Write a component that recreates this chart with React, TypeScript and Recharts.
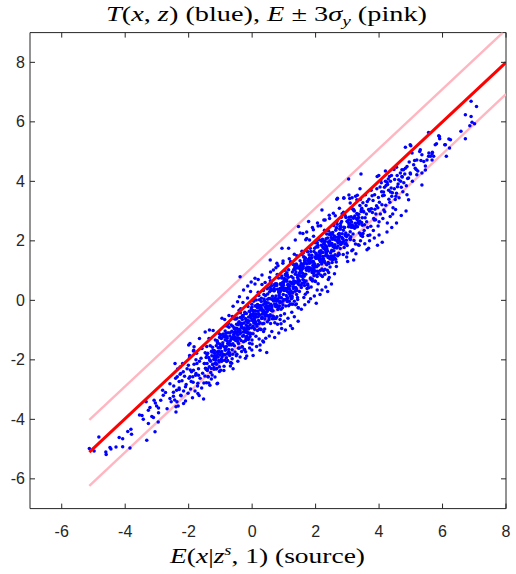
import { Scatter, ScatterChart, XAxis, YAxis } from 'recharts'

const W = 516
const H = 574
const AXIS = '#262626'
const BLUE = '#0000ff'
const RED = '#ff0000'
const PINK = '#ffb6c1'

const X_DOMAIN = [-7, 8]
const Y_DOMAIN = [-7, 9]
const X_TICKS = [-6, -4, -2, 0, 2, 4, 6, 8]
const Y_TICKS = [-6, -4, -2, 0, 2, 4, 6, 8]

// E line and E ± 3σ band, end points
const lineX = [-5.13, 8]
const redY = [-5.1, 8]
const pinkUpperX = [-5.13, 7.9]
const pinkUpperY = [-4.02, 9]
const pinkLowerY = [-6.24, 6.93]

// T(x,z) samples, read /, grouped by region
const tailLow = [
  [-5.13, -4.98], [-4.98, -5.06], [-4.83, -4.59], [-4.61, -5.1], [-4.6, -5.18], [-4.48, -4.95], [-4.45, -5.0],
  [-4.29, -4.93], [-4.19, -4.61], [-4.08, -4.65], [-4.08, -4.92], [-3.92, -4.41], [-3.82, -4.33], [-3.8, -4.5],
  [-3.85, -4.96], [-3.55, -3.85], [-3.47, -3.87], [-3.43, -4.0], [-3.32, -4.7], [-3.34, -3.41], [-3.27, -3.69],
  [-3.22, -3.6], [-3.16, -3.9], [-3.27, -4.14], [-3.11, -3.94], [-3.09, -3.36], [-3.05, -3.45], [-3.01, -3.55],
  [-3.06, -4.42], [-2.95, -3.62], [-2.95, -3.78], [-2.96, -4.09], [-2.88, -3.36], [-2.82, -3.02], [-2.8, -3.19],
  [-2.73, -3.1], [-2.68, -3.64], [-2.59, -2.8], [-2.59, -3.3], [-2.55, -3.41], [-2.48, -3.22], [-2.48, -3.09],
  [-2.4, -3.75], [-2.4, -3.58], [-2.37, -3.41], [-2.43, -2.12], [-2.36, -2.57], [-2.3, -2.73], [-2.3, -3.0],
  [-2.25, -3.19], [-2.25, -2.46], [-2.16, -3.47], [-2.1, -2.9], [-2.0, -1.5], [-1.97, -1.85], [-1.95, -2.34],
  [-1.92, -2.73], [-1.87, -2.57], [-1.83, -1.56], [-1.77, -2.0], [-1.77, -2.46], [-1.71, -2.79], [-1.71, -3.13],
  [-2.27, -2.24], [-2.17, -2.4], [-2.01, -2.18], [-1.96, -2.57], [-1.85, -2.35], [-1.74, -2.12], [-1.69, -2.52],
]

const bandA = [
  [-2.47, -2.88], [-2.44, -3.35], [-2.41, -2.62], [-2.38, -3.02], [-2.35, -2.31], [-2.33, -3.55], [-2.3, -2.95],
  [-2.27, -2.48], [-2.24, -3.21], [-2.21, -2.7], [-2.19, -2.12], [-2.16, -3.05], [-2.13, -2.55], [-2.1, -3.38],
  [-2.08, -2.83], [-2.05, -2.3], [-2.02, -3.12], [-1.99, -2.62], [-1.97, -1.92], [-1.94, -2.98], [-1.91, -2.4],
  [-1.88, -3.27], [-1.86, -2.75], [-1.83, -2.15], [-1.8, -3.05], [-1.78, -2.52], [-1.75, -1.78], [-1.72, -2.88],
  [-1.69, -2.3], [-1.67, -3.2], [-1.64, -2.62], [-1.61, -1.95], [-1.59, -2.95], [-1.56, -2.45], [-1.53, -3.32],
  [-1.51, -2.12], [-1.52, -2.78], [-1.58, -1.62], [-1.66, -2.05], [-1.85, -1.7],
]

const bandB = [
  [-1.5, -2.12], [-1.49, -2.54], [-1.48, -1.76], [-1.47, -2.28], [-1.45, -1.92], [-1.44, -2.77], [-1.43, -1.55],
  [-1.42, -2.12], [-1.41, -2.36], [-1.4, -1.78], [-1.39, -2.57], [-1.37, -1.92], [-1.36, -1.28], [-1.35, -2.23],
  [-1.34, -2.0], [-1.33, -2.85], [-1.32, -1.53], [-1.31, -2.05], [-1.29, -2.29], [-1.28, -1.71], [-1.27, -1.86],
  [-1.26, -2.51], [-1.25, -1.58], [-1.24, -2.15], [-1.23, -1.01], [-1.21, -1.99], [-1.2, -2.32], [-1.19, -1.69],
  [-1.18, -1.86], [-1.17, -2.58], [-1.16, -1.33], [-1.15, -2.0], [-1.13, -1.53], [-1.12, -2.15], [-1.11, -1.74],
  [-1.1, -1.36], [-1.09, -2.79], [-1.08, -1.8], [-1.07, -1.59], [-1.05, -2.02], [-1.04, -1.12], [-1.03, -2.23],
  [-1.02, -1.47], [-1.01, -1.84], [-1.0, -1.6], [-0.99, -2.35], [-0.97, -1.28], [-0.96, -1.72], [-0.95, -0.6],
  [-0.94, -2.02], [-0.93, -1.5], [-0.92, -1.82], [-0.91, -1.13], [-0.89, -2.36], [-0.88, -1.57], [-0.87, -1.23],
  [-0.86, -2.01], [-0.85, -1.33], [-0.84, -1.64], [-0.83, -0.85], [-0.81, -1.55], [-0.8, -1.8], [-0.79, -1.22],
  [-0.78, -1.37], [-0.77, -2.02], [-0.76, -1.09], [-0.74, -1.65], [-0.73, -0.51], [-0.72, -1.5], [-0.71, -1.83],
  [-0.7, -1.2], [-0.69, -1.37], [-0.68, -2.09], [-0.66, -0.83], [-0.65, -1.5], [-0.64, -1.04], [-0.63, -1.66],
  [-0.62, -1.25], [-0.61, -0.87], [-0.6, -2.3], [-0.58, -1.3], [-0.57, -1.09], [-0.56, -1.53], [-0.55, -0.63],
  [-0.54, -1.74], [-0.53, -0.98], [-0.52, -1.35], [-0.51, -1.11], [-0.5, -1.86], [-0.49, -0.8],
]

const bandC = [
  [-0.48, -1.81], [-0.47, -0.59], [-0.46, -1.16], [-0.45, -1.4], [-0.44, -0.82], [-0.43, -1.61], [-0.42, -0.97],
  [-0.41, -0.33], [-0.4, -1.28], [-0.39, -1.05], [-0.38, -1.9], [-0.37, -0.58], [-0.36, -1.1], [-0.35, -1.35],
  [-0.34, -0.77], [-0.33, -0.92], [-0.32, -1.57], [-0.31, -0.64], [-0.3, -1.21], [-0.29, -0.07], [-0.28, -1.06],
  [-0.27, -1.39], [-0.26, -0.76], [-0.25, -0.93], [-0.24, -1.65], [-0.23, -0.4], [-0.22, -1.07], [-0.21, -0.61],
  [-0.2, -1.23], [-0.19, -0.82], [-0.18, -0.44], [-0.17, -1.87], [-0.16, -0.88], [-0.15, -0.67], [-0.14, -1.11],
  [-0.13, -0.21], [-0.12, -1.32], [-0.11, -0.56], [-0.1, -0.93], [-0.09, -0.69], [-0.08, -1.44], [-0.07, -0.38],
  [-0.06, -0.82], [-0.05, 0.3], [-0.04, -1.12], [-0.03, -0.6], [-0.02, -0.92], [-0.01, -0.23], [0.0, -1.47],
  [0.01, -0.68], [0.02, -0.34], [0.03, -1.12], [0.04, -0.44], [0.05, -0.75], [0.06, 0.04], [0.07, -0.55],
  [0.08, -0.97], [0.09, -0.19], [0.1, -0.71], [0.11, -0.36], [0.12, -1.21], [0.13, 0.01], [0.14, -0.56],
  [0.15, -0.8], [0.16, -0.22], [0.17, -1.01], [0.18, -0.37], [0.19, 0.27], [0.2, -0.68], [0.21, -0.45],
  [0.22, -1.3], [0.23, 0.02], [0.24, -0.5], [0.25, -0.75], [0.26, -0.17], [0.27, -0.32], [0.28, -0.97],
  [0.29, -0.04], [0.3, -0.61], [0.31, 0.53], [0.32, -0.46], [0.33, -0.79], [0.34, -0.16], [0.35, -0.33],
  [0.36, -1.05], [0.37, 0.2], [0.38, -0.47], [0.39, -0.01], [0.4, -0.63], [0.41, -0.22], [0.42, 0.16],
  [0.43, -1.27], [0.44, -0.28], [0.45, -0.07], [0.46, -0.51], [0.47, 0.39], [0.48, -0.72], [0.49, 0.04],
  [0.5, -0.33], [0.51, -0.09],
  [-0.45, -2.05], [-0.4, 0.12], [-0.33, -1.72], [-0.27, 0.35], [-0.21, -1.95], [-0.14, 0.48], [-0.08, -1.6],
  [-0.03, 0.62], [0.03, -1.85], [0.09, 0.55], [0.14, -1.55], [0.19, 0.7], [0.25, -1.68], [0.31, 0.85],
  [0.36, -1.4], [0.41, 0.6], [0.46, -1.75], [-0.36, -0.28], [-0.19, -1.3], [0.07, -0.95],
]

const bandD = [
  [0.52, -0.29], [0.53, -0.65], [0.54, -0.2], [0.55, 0.77], [0.56, -0.29], [0.57, 0.05], [0.58, -0.78],
  [0.59, 0.37], [0.6, 0.58], [0.61, 0.49], [0.62, -0.26], [0.63, 0.04], [0.64, 0.14], [0.65, 0.02],
  [0.66, -0.54], [0.67, 1.02], [0.68, 0.32], [0.69, 0.41], [0.7, 0.32], [0.71, 0.5], [0.72, -0.19],
  [0.73, 0.56], [0.74, 0.02], [0.75, 0.15], [0.76, -0.14], [0.77, -0.03], [0.78, -0.55], [0.79, 0.87],
  [0.8, 0.37], [0.81, -0.31], [0.82, -0.21], [0.83, 0.75], [0.84, 0.08], [0.85, 0.16], [0.86, -0.19],
  [0.87, -0.08], [0.88, -0.64], [0.89, 0.56], [0.9, -0.51], [0.91, -0.79], [0.92, 0.09], [0.93, 0.36],
  [0.94, 0.46], [0.95, 0.48], [0.96, 0.41], [0.97, -0.03], [0.98, 0.2], [0.99, 0.59], [1.0, 0.03],
  [1.01, 0.7], [1.02, -0.45], [1.03, 0.41], [1.04, 0.34], [1.05, 0.39], [1.06, -0.19], [1.07, 0.39],
  [1.08, 0.82], [1.09, 0.64], [1.1, 0.02], [1.11, -0.04], [1.12, 0.09], [1.13, 0.53], [1.14, 0.78],
  [1.15, 1.03], [1.16, 0.42], [1.17, 0.49], [1.18, 0.21], [1.19, 0.62], [1.2, 0.15], [1.21, 1.29],
  [1.22, 0.31], [1.23, 0.6], [1.24, -0.12], [1.25, 0.1], [1.26, 0.56], [1.27, 0.27], [1.28, -0.13],
  [1.29, 1.21], [1.3, 0.4], [1.31, 1.03], [1.32, 0.44], [1.33, 1.55], [1.34, 1.08], [1.35, 1.04],
  [1.36, 0.88], [1.37, 0.42], [1.38, 0.95], [1.39, 1.22], [1.4, 0.2], [1.41, 1.19], [1.42, 0.61],
  [1.43, 0.77], [1.44, 0.66], [1.45, -0.25], [1.46, 0.7], [1.47, 0.67], [1.48, 1.1], [1.49, 0.9],
  [1.5, 0.65], [1.51, 1.06],
  [0.54, -1.2], [0.58, 0.95], [0.62, -1.05], [0.66, -0.35], [0.71, -1.25], [0.75, 1.1], [0.8, -0.8],
  [0.84, -1.1], [0.88, 0.3], [0.93, -0.95], [0.97, 1.25], [1.01, -0.7], [1.05, -1.0], [1.09, 0.05],
  [1.13, -0.6], [1.17, 1.4], [1.21, -0.85], [1.25, -0.4], [1.29, 0.75], [1.33, -0.55], [1.37, -0.15],
  [1.41, 1.5], [1.45, -0.7], [1.49, 0.3], [0.69, -0.62], [0.91, -0.3], [1.11, 0.85], [1.27, -0.95],
  [1.43, 0.1], [0.57, -0.48],
]

const bandE = [
  [1.52, 0.82], [1.53, 0.94], [1.54, 0.51], [1.55, 1.24], [1.56, 1.54], [1.57, 1.65], [1.58, 0.8],
  [1.59, 1.07], [1.6, 0.7], [1.61, 1.14], [1.62, 0.88], [1.63, 1.46], [1.64, 0.81], [1.65, 0.5],
  [1.66, 1.28], [1.67, 1.34], [1.68, 1.42], [1.69, 2.04], [1.7, 0.65], [1.71, 1.05], [1.72, 1.22],
  [1.73, 1.65], [1.74, 0.27], [1.75, 1.63], [1.76, 1.33], [1.77, 1.37], [1.78, 0.42], [1.79, 0.99],
  [1.8, 1.25], [1.81, 2.03], [1.82, 1.1], [1.83, 1.26], [1.84, 1.03], [1.85, 1.64], [1.86, 0.45],
  [1.87, 1.42], [1.88, 1.52], [1.89, 0.94], [1.9, 0.65], [1.91, 1.28], [1.92, 1.16], [1.93, 1.31],
  [1.94, 1.06], [1.95, 0.83], [1.96, 0.99], [1.97, 1.75], [1.98, 0.65], [1.99, 0.99], [2.0, 1.15],
  [2.01, 1.41], [2.02, 1.54], [2.03, 0.85], [2.04, 1.13], [2.05, 0.35], [2.06, 0.98], [2.07, 1.79],
  [2.08, 0.56], [2.09, 1.41], [2.1, 0.9], [2.11, 1.42], [2.12, 2.04], [2.13, 1.65], [2.14, 1.48],
  [2.15, 1.3], [2.16, 2.51], [2.17, 0.84], [2.18, 1.85], [2.19, 1.22], [2.2, 1.05], [2.21, 1.33],
  [2.22, 2.05], [2.23, 1.47], [2.24, 1.77], [2.25, 1.0], [2.26, 1.74], [2.27, 1.91], [2.28, 2.36],
  [2.29, 0.88], [2.3, 1.99], [2.31, 1.5], [2.32, 1.73], [2.33, 1.61], [2.34, 1.65], [2.35, 1.8],
  [2.36, 1.68], [2.37, 1.01], [2.38, 2.1], [2.39, 1.96], [2.4, 0.7], [2.41, 0.94], [2.42, 1.24],
  [2.43, 1.93], [2.44, 1.84], [2.45, 1.4], [2.46, 1.46], [2.47, 2.21], [2.48, 2.26], [2.49, 2.11],
  [2.5, 1.38], [2.51, 1.68],
  [1.55, -0.3], [1.6, 2.25], [1.66, -0.15], [1.72, 2.3], [1.78, -0.05], [1.84, 0.05], [1.9, 2.45],
  [1.96, 0.15], [2.02, -0.1], [2.08, 2.5], [2.14, 0.2], [2.2, 0.35], [2.26, 2.7], [2.32, 0.45],
  [2.38, 0.3], [2.44, 2.75], [2.5, 0.55], [1.63, 0.1], [1.99, 1.95], [2.35, 1.2],
]

const bandF = [
  [2.52, 1.27], [2.53, 1.85], [2.54, 2.28], [2.55, 2.1], [2.56, 1.48], [2.57, 1.42], [2.59, 1.78],
  [2.6, 1.42], [2.61, 1.87], [2.62, 2.84], [2.63, 1.78], [2.64, 2.12], [2.65, 1.29], [2.66, 2.44],
  [2.67, 2.65], [2.68, 2.56], [2.7, 1.82], [2.71, 2.12], [2.72, 2.22], [2.73, 2.1], [2.74, 1.54],
  [2.75, 3.1], [2.76, 2.4], [2.77, 2.49], [2.78, 2.4], [2.79, 2.58], [2.81, 1.9], [2.82, 2.65],
  [2.83, 2.11], [2.84, 2.24], [2.85, 1.95], [2.86, 2.06], [2.87, 1.54], [2.88, 2.96], [2.89, 2.46],
  [2.9, 1.78], [2.92, 1.89], [2.93, 2.85], [2.94, 2.18], [2.95, 2.26], [2.96, 1.91], [2.97, 2.02],
  [2.98, 1.46], [2.99, 2.66], [3.0, 1.59], [3.01, 1.31], [3.03, 2.2], [3.04, 2.47], [3.05, 2.57],
  [3.06, 2.59], [3.07, 2.52], [3.08, 2.08], [3.09, 2.31], [3.1, 2.7], [3.11, 2.14], [3.12, 2.81],
  [3.14, 1.67], [3.15, 2.53], [3.16, 2.46], [3.17, 2.51], [3.18, 2.23], [3.19, 2.76], [3.2, 3.03],
  [3.21, 2.01], [3.22, 3.0], [3.23, 2.42], [3.25, 2.59], [3.26, 2.48], [3.27, 1.57], [3.28, 2.52],
  [3.29, 2.49], [3.3, 2.92], [3.31, 2.72], [3.32, 2.47], [3.33, 2.88], [3.34, 1.87], [3.36, 2.89],
  [3.37, 1.85], [3.38, 2.26], [3.39, 2.67], [3.4, 3.75], [3.41, 3.39], [3.42, 2.24], [3.43, 2.18],
  [3.44, 3.04], [3.45, 2.62], [3.47, 2.78], [3.48, 2.15], [3.49, 3.28], [3.5, 3.0],
]

const bandG = [
  [3.52, 2.97], [3.54, 2.54], [3.56, 2.78], [3.59, 3.19], [3.61, 2.64], [3.63, 3.32], [3.65, 2.18],
  [3.67, 3.05], [3.7, 3.0], [3.72, 3.06], [3.74, 2.49], [3.76, 3.08], [3.78, 3.52], [3.81, 3.36],
  [3.83, 2.75], [3.85, 2.7], [3.87, 3.06], [3.89, 2.71], [3.92, 3.18], [3.94, 4.16], [3.96, 3.11],
  [3.98, 3.46], [4.0, 2.64], [4.03, 3.81], [4.05, 4.03], [4.07, 3.95], [4.09, 3.21], [4.11, 3.52],
  [4.14, 3.64], [4.16, 3.53], [4.18, 2.98], [4.2, 4.35], [4.22, 3.86], [4.25, 3.97], [4.27, 3.89],
  [4.29, 4.08], [4.31, 3.4], [4.33, 4.16], [4.36, 3.64], [4.38, 3.78], [4.4, 3.5], [4.42, 3.62],
  [4.44, 3.11], [4.47, 4.4], [4.49, 4.06], [4.51, 3.39], [4.53, 3.5], [4.55, 4.47], [4.58, 3.82],
  [4.6, 3.91],
  [3.53, 2.35], [3.57, 3.55], [3.6, 2.9], [3.64, 2.45], [3.68, 3.4], [3.71, 2.2], [3.75, 3.7],
  [3.79, 2.95], [3.82, 2.35], [3.86, 3.55], [3.9, 2.9], [3.93, 3.75], [3.97, 2.5], [4.01, 3.3],
  [4.04, 2.9], [4.08, 3.65], [4.12, 2.75], [4.17, 3.8], [4.21, 3.2], [4.26, 2.6], [4.3, 3.7],
  [4.34, 3.3], [4.39, 4.2], [4.43, 2.9], [4.48, 3.75], [4.52, 3.05], [4.57, 4.2], [4.63, 3.45],
  [4.68, 4.0], [4.75, 3.65], [4.81, 4.25], [4.86, 3.85], [4.95, 4.65], [5.05, 4.0], [5.12, 4.7],
  [5.22, 4.35],
]

// lower edge of the cloud between x = 3.5 and 5
const lowerEdge = [
  [3.55, 1.9], [3.62, 1.7], [3.7, 2.0], [3.85, 2.1], [3.95, 1.85], [4.0, 2.2], [4.1, 1.95],
  [4.25, 2.3], [4.4, 2.45], [4.55, 2.6], [4.7, 2.85], [4.85, 3.0],
]

// second, denser pass through the core of the cloud
const bandCore = [
  [-1.445, -2.325], [-1.425, -1.825], [-1.405, -2.305], [-1.385, -2.565], [-1.365, -2.775], [-1.345, -0.995],
  [-1.325, -2.025], [-1.305, -2.425], [-1.285, -2.645], [-1.265, -1.735], [-1.245, -2.155], [-1.225, -1.675],
  [-1.205, -2.255], [-1.185, -1.775], [-1.165, -2.135], [-1.145, -1.945], [-1.125, -1.865], [-1.105, -2.805],
  [-1.085, -1.445], [-1.065, -1.725], [-1.045, -2.075], [-1.025, -1.245], [-1.005, -1.555], [-0.985, -1.155],
  [-0.965, -2.045], [-0.945, -1.895], [-0.925, -1.425], [-0.905, -1.215], [-0.885, -2.215], [-0.865, -0.645],
  [-0.845, -1.675], [-0.825, -1.105], [-0.805, -2.055], [-0.785, -0.865], [-0.765, -0.785], [-0.745, -1.745],
  [-0.725, -1.445], [-0.705, -1.855], [-0.685, -2.205], [-0.665, -1.295], [-0.645, -2.115], [-0.625, -0.545],
  [-0.605, -1.455], [-0.585, -1.155], [-0.565, -0.945], [-0.545, -1.225], [-0.525, -1.285], [-0.505, -0.625],
  [-0.485, -1.265], [-0.465, -1.065], [-0.445, -1.255], [-0.425, -0.755], [-0.405, -1.605], [-0.385, -1.005],
  [-0.365, -0.795], [-0.345, -0.865], [-0.325, -0.805], [-0.305, -0.515], [-0.285, -0.545], [-0.265, -0.955],
  [-0.245, -1.655], [-0.225, -0.445], [-0.205, -1.725], [-0.185, -0.705], [-0.165, -1.215], [-0.145, 0.075],
  [-0.125, -0.885], [-0.105, -1.285], [-0.085, -1.115], [-0.065, -1.215], [-0.045, -0.475], [-0.025, -0.49],
  [-0.005, -1.335], [0.015, -0.665], [0.035, -0.865], [0.055, -0.605], [0.075, -0.645], [0.095, -0.525],
  [0.115, -0.795], [0.135, -0.175], [0.155, -0.225], [0.175, -0.245], [0.195, -0.165], [0.215, -0.785],
  [0.235, -0.965], [0.255, -0.215], [0.275, -0.225], [0.295, -0.275], [0.315, -0.565], [0.335, -1.365],
  [0.355, 0.335], [0.375, 0.045], [0.395, -0.965], [0.415, -0.535], [0.435, -0.415], [0.455, -0.235],
  [0.475, -0.265], [0.495, 0.415], [0.515, -0.295], [0.535, -0.585], [0.555, -0.525], [0.575, 0.655],
  [0.595, 0.335], [0.615, -0.185], [0.635, -0.615], [0.655, 0.055], [0.675, -0.025], [0.695, 0.525],
  [0.715, -0.755], [0.735, 0.505], [0.755, -0.215], [0.775, 0.495], [0.795, 0.015], [0.815, 1.165],
  [0.835, 0.285], [0.855, 0.225], [0.875, 0.395], [0.895, 0.305], [0.915, 0.085], [0.935, 0.815],
  [0.955, -0.245], [0.975, 1.325], [0.995, 0.635], [1.015, 0.735], [1.035, 0.655], [1.055, 0.845],
  [1.075, 0.165], [1.095, 0.925], [1.115, 0.395], [1.135, 0.535], [1.155, 0.255], [1.175, 0.375],
  [1.195, -0.135], [1.215, 1.295], [1.235, 0.805], [1.255, 0.135], [1.275, 0.245], [1.295, 1.215],
  [1.315, 0.555], [1.335, 0.645], [1.355, 0.305], [1.375, 0.425], [1.395, -0.125], [1.415, 1.085],
  [1.435, 0.025], [1.455, -0.245], [1.475, 0.645], [1.495, 0.925], [1.515, 1.035], [1.535, 1.065],
  [1.555, 1.005], [1.575, 0.575], [1.595, 0.815], [1.615, 1.215], [1.635, 0.665], [1.655, 1.345],
  [1.675, 0.205], [1.695, 1.075], [1.715, 1.015], [1.735, 1.095], [1.755, 0.505], [1.775, 1.115],
  [1.795, 1.535], [1.815, 1.365], [1.835, 0.755], [1.855, 0.705], [1.875, 1.065], [1.895, 0.715],
  [1.915, 1.175], [1.935, 2.155], [1.955, 1.105], [1.975, 1.455], [1.995, 0.635], [2.015, 1.795],
  [2.035, 2.015], [2.055, 1.935], [2.075, 1.195], [2.095, 1.505], [2.115, 1.615], [2.135, 1.525],
  [2.155, 1.585], [2.175, 1.365], [2.195, 1.985], [2.215, 0.805], [2.235, 1.785], [2.255, 1.895],
  [2.275, 1.325], [2.295, 1.045], [2.315, 1.685], [2.335, 1.575], [2.355, 1.735], [2.375, 1.495],
  [2.395, 1.275], [2.415, 1.445], [2.435, 2.215], [2.455, 1.125], [2.475, 1.475], [2.495, 1.645],
  [2.515, 1.915], [2.535, 2.055], [2.555, 1.375], [2.575, 1.665], [2.595, 0.895], [2.615, 1.535],
  [2.635, 2.355], [2.655, 1.135], [2.675, 1.995], [2.695, 1.495], [2.715, 2.025], [2.735, 2.035],
  [2.755, 2.165], [2.775, 1.745], [2.795, 2.485], [2.815, 2.795], [2.835, 2.915], [2.855, 2.075],
  [2.875, 2.355], [2.895, 1.995], [2.915, 2.445], [2.935, 2.195], [2.955, 2.785], [2.975, 2.145],
  [2.995, 1.845], [3.015, 2.635], [3.035, 2.705], [3.055, 2.795], [3.075, 3.425], [3.095, 2.045],
  [3.115, 2.455], [3.135, 2.635], [3.155, 3.075], [3.175, 1.705], [3.195, 3.055], [3.215, 2.785],
  [3.235, 2.835], [3.255, 1.895], [3.275, 2.475], [3.295, 2.745], [3.315, 3.535], [3.335, 2.615],
  [3.355, 2.785], [3.375, 2.565], [3.395, 3.185], [3.415, 2.005], [3.435, 2.985], [3.455, 3.095],
  [3.475, 2.525], [3.495, 2.245],
]

// third pass, tight to the middle of the cloud
const bandMid = [
  [-1.19, -1.91], [-1.17, -2.12], [-1.15, -2.1], [-1.13, -2.31], [-1.11, -2.29], [-1.09, -1.41], [-1.07, -1.9],
  [-1.05, -1.71], [-1.03, -2.39], [-1.01, -1.22], [-0.99, -1.75], [-0.97, -1.97], [-0.95, -2.03], [-0.93, -1.52],
  [-0.91, -1.81], [-0.89, -1.2], [-0.87, -1.84], [-0.85, -1.03], [-0.83, -1.19], [-0.81, -1.93], [-0.79, -1.27],
  [-0.77, -1.45], [-0.75, -0.77], [-0.73, -0.9], [-0.71, -1.76], [-0.69, -1.09], [-0.67, -1.48], [-0.65, -1.28],
  [-0.63, -1.96], [-0.61, -1.81], [-0.59, -1.29], [-0.57, -1.07], [-0.55, -0.93], [-0.53, -0.61], [-0.51, -1.06],
  [-0.49, -0.94], [-0.47, -1.35], [-0.45, -1.05], [-0.43, -1.45], [-0.41, -0.72], [-0.39, -1.13], [-0.37, -0.42],
  [-0.35, -0.78], [-0.33, -0.9], [-0.31, -1.56], [-0.29, -0.51], [-0.27, -1.18], [-0.25, -0.94], [-0.23, -1.01],
  [-0.21, -1.36], [-0.19, -0.69], [-0.17, -0.97], [-0.15, -1.06], [-0.13, -0.75], [-0.11, -0.96], [-0.09, -0.37],
  [-0.07, -1.1], [-0.05, -0.52], [-0.03, -0.29], [-0.01, -0.13], [0.01, -0.51], [0.03, -0.35], [0.05, -0.03],
  [0.07, -0.48], [0.09, -0.36], [0.11, -0.77], [0.13, -0.47], [0.15, -0.87], [0.17, -0.14], [0.19, -0.55],
  [0.21, 0.16], [0.23, -0.2], [0.25, -0.32], [0.27, -0.98], [0.29, 0.07], [0.31, -0.6], [0.33, -0.36],
  [0.35, -0.43], [0.37, -0.78], [0.39, -0.11], [0.41, -0.39], [0.43, -0.48], [0.45, -0.17], [0.47, -0.38],
  [0.49, 0.21], [0.51, -0.52], [0.53, 0.06], [0.55, 0.29], [0.57, 0.45], [0.59, -0.13], [0.61, -0.34],
  [0.63, -0.36], [0.65, -0.53], [0.67, -0.55], [0.69, 0.37], [0.71, -0.12], [0.73, 0.07], [0.75, -0.61],
  [0.77, 0.56], [0.79, 0.03], [0.81, -0.19], [0.83, -0.25], [0.85, 0.26], [0.87, -0.03], [0.89, 0.54],
  [0.91, -0.06], [0.93, 0.75], [0.95, 0.59], [0.97, -0.15], [0.99, 0.51], [1.01, 0.33], [1.03, 1.01],
  [1.05, 0.88], [1.07, 0.02], [1.09, 0.69], [1.11, 0.3], [1.13, 0.5], [1.15, -0.18], [1.17, -0.03],
  [1.19, 0.49], [1.21, 0.24], [1.23, 0.05], [1.25, 0.07], [1.27, 0.95], [1.29, 0.46], [1.31, 0.65],
  [1.33, -0.03], [1.35, 1.14], [1.37, 0.61], [1.39, 0.39], [1.41, 0.33], [1.43, 0.84], [1.45, 0.55],
  [1.47, 1.12], [1.49, 0.52], [1.51, 1.33], [1.53, 1.17], [1.55, 0.43], [1.57, 1.09], [1.59, 0.91],
  [1.61, 1.59], [1.63, 1.46], [1.65, 0.6], [1.67, 1.27], [1.69, 0.88], [1.71, 1.08], [1.73, 0.4],
  [1.75, 0.55], [1.77, 1.07], [1.79, 1.27], [1.81, 1.43], [1.83, 1.75], [1.85, 1.3], [1.87, 1.42],
  [1.89, 1.01], [1.91, 1.31], [1.93, 0.91], [1.95, 1.64], [1.97, 1.23], [1.99, 1.94], [2.01, 1.58],
  [2.03, 1.46], [2.05, 0.8], [2.07, 1.85], [2.09, 1.18], [2.11, 1.44], [2.13, 1.35], [2.15, 1.0],
  [2.17, 1.67], [2.19, 1.39], [2.21, 1.3], [2.23, 1.61], [2.25, 1.4], [2.27, 1.99], [2.29, 1.26],
  [2.31, 1.84], [2.33, 2.07], [2.35, 2.23], [2.37, 1.65], [2.39, 1.44], [2.41, 2.33], [2.43, 1.88],
  [2.45, 2.0], [2.47, 1.59], [2.49, 1.89], [2.51, 1.49], [2.53, 2.22], [2.55, 1.81], [2.57, 2.52],
  [2.59, 2.16], [2.61, 2.04], [2.63, 1.38], [2.65, 2.43], [2.67, 1.76], [2.69, 2.0], [2.71, 1.93],
  [2.73, 1.58], [2.75, 2.25], [2.77, 1.97], [2.79, 1.88],
]

const tailHigh = [
  [4.62, 4.05], [4.73, 4.15], [4.78, 3.95], [4.9, 4.1], [4.99, 4.25], [4.7, 3.8], [4.55, 3.6],
  [4.67, 4.28], [4.72, 4.39], [4.83, 4.44], [4.88, 3.55], [4.93, 3.38], [4.35, 2.82], [4.15, 3.04],
  [3.99, 4.2], [4.2, 4.0], [4.36, 4.0], [4.98, 5.23], [5.04, 4.95], [5.28, 5.0], [5.41, 4.67],
  [5.57, 4.95], [5.62, 4.84], [5.68, 4.98], [5.56, 5.64], [5.88, 5.53], [5.81, 5.26], [6.09, 5.23],
  [6.2, 5.42], [5.35, 3.88], [5.46, 4.38], [5.17, 4.4], [4.83, 5.15], [5.0, 5.2], [5.3, 5.06],
  [5.35, 4.89], [5.32, 4.7], [5.46, 4.52], [5.19, 4.72], [5.67, 4.93], [5.72, 4.84], [5.56, 4.84],
  [5.51, 4.72], [5.67, 4.72], [5.77, 5.23], [5.9, 5.51], [5.91, 5.43], [6.07, 5.23], [6.12, 4.84],
  [6.22, 5.12], [6.25, 5.4], [6.58, 5.68], [6.72, 5.43], [6.72, 6.24], [6.9, 6.18], [6.93, 5.99],
  [6.86, 5.87], [7.01, 5.94], [6.9, 6.69], [7.07, 6.52], [4.77, 4.39], [4.88, 4.5], [4.98, 4.28],
  [5.14, 4.44], [4.72, 4.16], [4.93, 4.11], [5.19, 4.22], [5.09, 4.56], [5.35, 4.28],
]

const outliers = [
  [-0.38, 0.79], [0.09, 0.74], [0.57, 1.36], [0.78, 1.25], [0.94, 1.75], [1.15, 1.75], [1.36, 2.03],
  [1.46, 2.48], [1.51, 2.26], [1.72, 2.08], [1.78, 2.65], [1.93, 2.37], [2.06, 2.6], [2.2, 3.04],
  [2.3, 2.7], [2.43, 2.86], [2.56, 2.93], [2.69, 3.43], [2.89, 3.43], [3.05, 3.54], [3.09, 3.27],
  [3.3, 3.38], [3.04, 4.08], [3.43, 4.25], [2.67, 3.4], [2.89, 3.45], [3.15, 3.45], [3.26, 3.5],
  [3.2, 1.36], [3.67, 1.75], [2.43, 0.77], [-0.01, -1.67], [0.25, -1.5], [-1.48, -1.06], [-1.66, -1.28],
  [-1.96, -1.45], [-1.84, -1.68], [-0.46, -0.05], [-0.6, -0.2],
]

const pairsToPoints = (rows: number[][]) => rows.map(([x, y]) => ({ x, y }))
const zip = (xs: number[], ys: number[]) => xs.map((x, i) => ({ x, y: ys[i] }))

const samples = pairsToPoints([
  ...tailLow, ...bandA, ...bandB, ...bandC, ...bandD, ...bandE, ...bandF, ...bandG, ...lowerEdge,
  ...bandCore, ...bandMid, ...tailHigh, ...outliers,
])
const redLine = zip(lineX, redY)
const pinkUpper = zip(pinkUpperX, pinkUpperY)
const pinkLower = zip(lineX, pinkLowerY)

const SANS = '"Liberation Sans", Arial, sans-serif'
const SERIF = '"Liberation Serif", "Times New Roman", serif'

const Dot = (props: any) => <circle cx={props.cx} cy={props.cy} r={1.75} fill={BLUE} />
const NoShape = () => <g />

function BottomTick({ x, y, payload }: any) {
  return (
    <g>
      <line x1={x} y1={y} x2={x} y2={y - 5} stroke={AXIS} />
      <text x={x} y={y + 28} textAnchor="middle" fontSize={16} fill={AXIS} fontFamily={SANS}>
        {payload.value}
      </text>
    </g>
  )
}

function LeftTick({ x, y, payload }: any) {
  return (
    <g>
      <line x1={x} y1={y} x2={x + 5} y2={y} stroke={AXIS} />
      <text x={x - 5} y={y + 5.5} textAnchor="end" fontSize={16} fill={AXIS} fontFamily={SANS}>
        {payload.value}
      </text>
    </g>
  )
}

const TopTick = ({ x, y }: any) => <line x1={x} y1={y} x2={x} y2={y + 5} stroke={AXIS} />
const RightTick = ({ x, y }: any) => <line x1={x} y1={y} x2={x - 5} y2={y} stroke={AXIS} />

export default function App() {
  return (
    <div style={{ position: 'absolute', left: 0, top: 0, width: W, height: H, background: '#fff' }}>
      <ScatterChart width={W} height={H} margin={{ top: 31.6, right: 9, bottom: 25.4, left: 0 }}>
        <XAxis
          type="number"
          dataKey="x"
          domain={X_DOMAIN}
          ticks={X_TICKS}
          allowDataOverflow
          height={40}
          tickSize={0}
          tickMargin={0}
          tickLine={false}
          axisLine={{ stroke: AXIS }}
          tick={<BottomTick />}
        />
        <XAxis
          xAxisId="top"
          orientation="top"
          type="number"
          dataKey="x"
          domain={X_DOMAIN}
          ticks={X_TICKS}
          allowDataOverflow
          height={1}
          tickSize={0}
          tickMargin={0}
          tickLine={false}
          axisLine={{ stroke: AXIS }}
          tick={<TopTick />}
        />
        <YAxis
          type="number"
          dataKey="y"
          domain={Y_DOMAIN}
          ticks={Y_TICKS}
          allowDataOverflow
          width={30}
          tickSize={0}
          tickMargin={0}
          tickLine={false}
          axisLine={{ stroke: AXIS }}
          tick={<LeftTick />}
        />
        <YAxis
          yAxisId="right"
          orientation="right"
          type="number"
          dataKey="y"
          domain={Y_DOMAIN}
          ticks={Y_TICKS}
          allowDataOverflow
          width={1}
          tickSize={0}
          tickMargin={0}
          tickLine={false}
          axisLine={{ stroke: AXIS }}
          tick={<RightTick />}
        />
        <Scatter data={pinkUpper} line={{ stroke: PINK, strokeWidth: 2.4 }} shape={NoShape} isAnimationActive={false} />
        <Scatter data={pinkLower} line={{ stroke: PINK, strokeWidth: 2.4 }} shape={NoShape} isAnimationActive={false} />
        <Scatter data={samples} shape={Dot} isAnimationActive={false} />
        <Scatter data={redLine} line={{ stroke: RED, strokeWidth: 3 }} shape={NoShape} isAnimationActive={false} />
        {/* ties the mirrored top / right axes to a series so they are drawn */}
        <Scatter xAxisId="top" yAxisId="right" data={redLine} shape={NoShape} isAnimationActive={false} />
      </ScatterChart>
      <svg width={W} height={H} style={{ position: 'absolute', left: 0, top: 0, pointerEvents: 'none' }}>
        <text x={266.5} y={21} textAnchor="middle" fontSize={22} fill="#000" fontFamily={SERIF} textLength={321} lengthAdjust="spacingAndGlyphs">
          <tspan fontStyle="italic">T</tspan>
          {'('}
          <tspan fontStyle="italic">x</tspan>
          {', '}
          <tspan fontStyle="italic">z</tspan>
          {') (blue), '}
          <tspan fontStyle="italic">E</tspan>
          {' \u00b1 3'}
          <tspan fontStyle="italic">{'\u03c3'}</tspan>
          <tspan fontStyle="italic" fontSize={15} dy={5}>y</tspan>
          <tspan dy={-5}>{'  (pink)'}</tspan>
        </text>
        <text x={267.5} y={563} textAnchor="middle" fontSize={21} fill="#000" fontFamily={SERIF} textLength={195} lengthAdjust="spacingAndGlyphs">
          <tspan fontStyle="italic">E</tspan>
          {'('}
          <tspan fontStyle="italic">x</tspan>
          {'|'}
          <tspan fontStyle="italic">z</tspan>
          <tspan fontStyle="italic" fontSize={14} dy={-8}>s</tspan>
          <tspan dy={8}>{', 1)  (source)'}</tspan>
        </text>
      </svg>
    </div>
  )
}
